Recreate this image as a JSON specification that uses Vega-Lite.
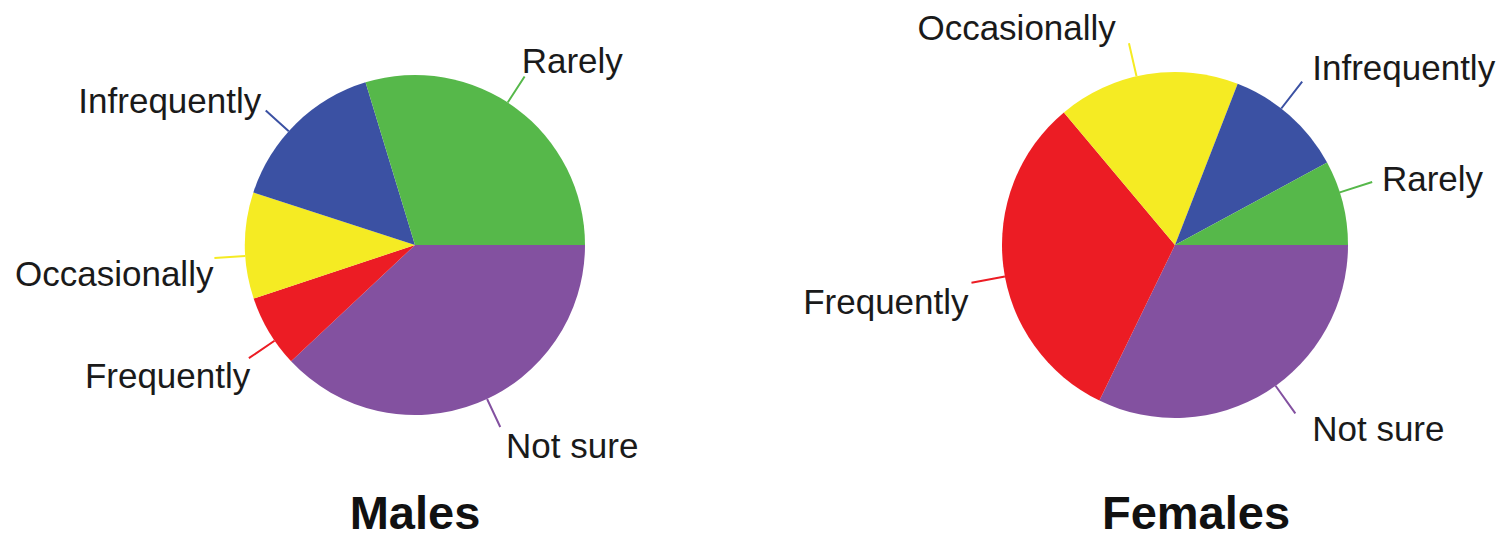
{
  "$schema": "https://vega.github.io/schema/vega-lite/v6.json",
  "background": "white",
  "padding": {"left": 10, "top": 5, "right": 5, "bottom": 0},
  "data": {
    "values": [
      {"g": "Males", "cat": "Not sure", "k": 1, "v": 38.0},
      {"g": "Males", "cat": "Frequently", "k": 2, "v": 6.9},
      {"g": "Males", "cat": "Occasionally", "k": 3, "v": 10.1},
      {"g": "Males", "cat": "Infrequently", "k": 4, "v": 15.3},
      {"g": "Males", "cat": "Rarely", "k": 5, "v": 29.7},
      {"g": "Females", "cat": "Not sure", "k": 1, "v": 32.2},
      {"g": "Females", "cat": "Frequently", "k": 2, "v": 31.7},
      {"g": "Females", "cat": "Occasionally", "k": 3, "v": 17.0},
      {"g": "Females", "cat": "Infrequently", "k": 4, "v": 11.2},
      {"g": "Females", "cat": "Rarely", "k": 5, "v": 7.9}
    ]
  },
  "spacing": 45,
  "bounds": "flush",
  "hconcat": [
    {
      "width": 810,
      "height": 480,
      "title": {"text": "Males", "orient": "bottom", "anchor": "middle", "frame": "group", "offset": 7, "fontSize": 47, "fontWeight": "bold", "font": "Liberation Sans", "color": "#111111"},
      "transform": [{"filter": "datum.g == 'Males'"}],
      "encoding": {
        "theta": {"field": "v", "type": "quantitative", "stack": true, "scale": {"range": [1.5707963, 7.8539816]}},
        "order": {"field": "k", "type": "quantitative"},
        "color": {
          "field": "cat", "type": "nominal", "legend": null,
          "scale": {"domain": ["Rarely", "Infrequently", "Occasionally", "Frequently", "Not sure"], "range": ["#56B84A", "#3B51A3", "#F5EB23", "#EC1C24", "#8351A0"]}
        }
      },
      "layer": [
        {"mark": {"type": "arc", "radius": 170}},
        {"mark": {"type": "arc", "filled": false, "padAngle": 3, "strokeWidth": 2, "radius": 201, "radius2": 170, "thetaOffset": -0.061}},
        {
          "mark": {
            "type": "text", "radius": 203, "thetaOffset": -0.061, "fontSize": 35, "font": "Liberation Sans",
            "align": {"expr": "indexof(['Rarely','Not sure'], datum.cat) >= 0 ? 'left' : 'right'"},
            "baseline": {"expr": "indexof(['Rarely','Infrequently'], datum.cat) >= 0 ? 'alphabetic' : 'top'"},
            "dx": {"expr": "({'Rarely': -4, 'Infrequently': -3, 'Occasionally': 1, 'Frequently': 3, 'Not sure': 5})[datum.cat]"},
            "dy": {"expr": "({'Rarely': -2, 'Infrequently': 4, 'Occasionally': 0, 'Frequently': 1, 'Not sure': 1})[datum.cat]"}
          },
          "encoding": {"text": {"field": "cat", "type": "nominal"}, "color": {"value": "#1a1a1a"}}
        }
      ]
    },
    {
      "width": 620,
      "height": 480,
      "title": {"text": "Females", "orient": "bottom", "anchor": "middle", "frame": "group", "offset": 7, "dx": 21, "fontSize": 47, "fontWeight": "bold", "font": "Liberation Sans", "color": "#111111"},
      "transform": [{"filter": "datum.g == 'Females'"}],
      "encoding": {
        "theta": {"field": "v", "type": "quantitative", "stack": true, "scale": {"range": [1.5707963, 7.8539816]}},
        "order": {"field": "k", "type": "quantitative"},
        "color": {
          "field": "cat", "type": "nominal", "legend": null,
          "scale": {"domain": ["Rarely", "Infrequently", "Occasionally", "Frequently", "Not sure"], "range": ["#56B84A", "#3B51A3", "#F5EB23", "#EC1C24", "#8351A0"]}
        }
      },
      "layer": [
        {"mark": {"type": "arc", "radius": 173}},
        {"mark": {"type": "arc", "filled": false, "padAngle": 3, "strokeWidth": 2, "radius": 207, "radius2": 173, "thetaOffset": -0.061}},
        {
          "mark": {
            "type": "text", "radius": 212, "thetaOffset": -0.061, "fontSize": 35, "font": "Liberation Sans",
            "align": {"expr": "indexof(['Occasionally','Frequently'], datum.cat) >= 0 ? 'right' : 'left'"},
            "baseline": {"expr": "datum.cat == 'Rarely' ? 'middle' : (indexof(['Occasionally','Infrequently'], datum.cat) >= 0 ? 'alphabetic' : 'top')"},
            "dx": {"expr": "({'Rarely': 5, 'Infrequently': 7, 'Occasionally': -12, 'Frequently': 2, 'Not sure': 14})[datum.cat]"},
            "dy": {"expr": "({'Rarely': 0, 'Infrequently': 2, 'Occasionally': 2, 'Frequently': 2, 'Not sure': -5})[datum.cat]"}
          },
          "encoding": {"text": {"field": "cat", "type": "nominal"}, "color": {"value": "#1a1a1a"}}
        }
      ]
    }
  ],
  "config": {"view": {"stroke": null}, "font": "Liberation Sans"}
}
